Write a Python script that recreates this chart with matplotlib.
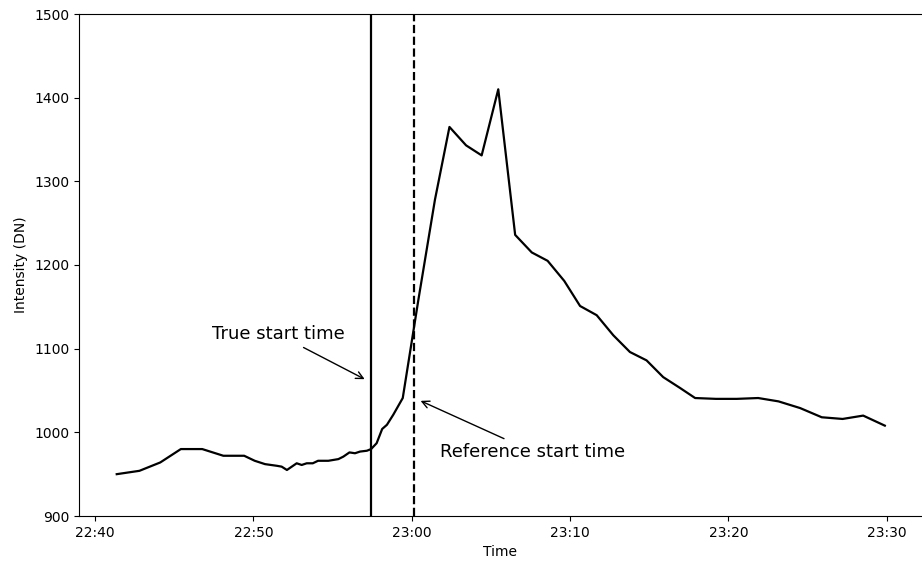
import pandas as pd
import matplotlib
matplotlib.use("Agg")
import matplotlib.pyplot as plt
import matplotlib.dates as mdates

# ------------------------------------------------
# DATA
# ------------------------------------------------

day = "2012-01-01 "

times = [
    "22:41:22", "22:42:48", "22:44:07", "22:45:25", "22:46:46", "22:48:06",
    "22:49:25", "22:50:05", "22:50:44", "22:51:29", "22:51:47", "22:52:07",
    "22:52:44", "22:53:03", "22:53:22", "22:53:45", "22:54:05", "22:54:44",
    "22:55:22", "22:55:41", "22:56:04", "22:56:25", "22:56:44", "22:57:10",
    "22:57:26", "22:57:47", "22:58:08", "22:58:26", "22:58:50", "22:59:26",
    "23:00:25", "23:01:28", "23:02:23", "23:03:26", "23:04:25", "23:05:28",
    "23:06:32", "23:07:35", "23:08:35", "23:09:38", "23:10:38", "23:11:41",
    "23:12:44", "23:13:47", "23:14:50", "23:15:53", "23:16:57", "23:17:54",
    "23:19:13", "23:20:32", "23:21:53", "23:23:10", "23:24:32", "23:25:54",
    "23:27:13", "23:28:31", "23:29:53",
]

intensity = [
    950, 954, 964, 980, 980, 972,
    972, 966, 962, 960, 959, 955,
    963, 961, 963, 963, 966, 966,
    968, 971, 976, 975, 977, 978,
    980, 987, 1004, 1009, 1021, 1041,
    1158, 1278, 1365, 1343, 1331, 1410,
    1236, 1215, 1205, 1181, 1151, 1140,
    1116, 1096, 1086, 1066, 1053, 1041,
    1040, 1040, 1041, 1037, 1029, 1018,
    1016, 1020, 1008,
]

true_start = "22:57:25"
ref_start = "23:00:09"

t = pd.to_datetime([day + s for s in times])

# ------------------------------------------------
# FIGURE
# ------------------------------------------------

fig = plt.figure(figsize=(9.22, 5.63), dpi=100)
ax = fig.add_axes([79 / 922, 47 / 563, 842.5 / 922, 502 / 563])

ax.plot(t, intensity, color="black", lw=1.6)

ax.axvline(pd.Timestamp(day + true_start), color="black", lw=1.6)
ax.axvline(pd.Timestamp(day + ref_start), color="black", lw=1.6, ls="--")

ax.annotate("True start time",
            xy=(pd.Timestamp(day + "22:57:11"), 1062),
            xytext=(pd.Timestamp(day + "22:47:23"), 1117),
            ha="left", va="center", fontsize=13,
            arrowprops=dict(arrowstyle="->", color="black", lw=1))

ax.annotate("Reference start time",
            xy=(pd.Timestamp(day + "23:00:24"), 1039),
            xytext=(pd.Timestamp(day + "23:01:47"), 977),
            ha="left", va="center", fontsize=13,
            arrowprops=dict(arrowstyle="->", color="black", lw=1))

# ------------------------------------------------
# AXES
# ------------------------------------------------

ax.set_xlim(pd.Timestamp(day + "22:38:59"), pd.Timestamp(day + "23:32:12"))
ax.set_ylim(900, 1500)
ax.xaxis.set_major_locator(mdates.MinuteLocator(byminute=range(0, 60, 10)))
ax.xaxis.set_major_formatter(mdates.DateFormatter("%H:%M"))
ax.spines["right"].set_visible(False)

ax.set_xlabel("Time")
ax.set_ylabel("Intensity (DN)")

fig.savefig("out.png", dpi=100)
